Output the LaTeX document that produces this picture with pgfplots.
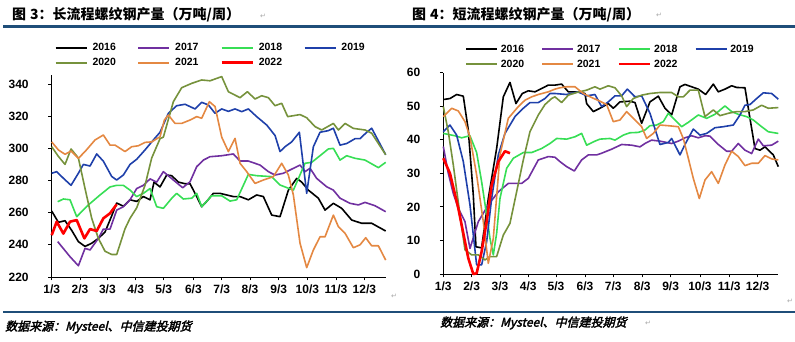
\documentclass[border=0pt]{standalone}
\usepackage{fontspec}
\setmainfont{Liberation Sans}
\newfontfamily\cjk{Noto Sans CJK SC}
\newfontfamily\cjksrc[FakeSlant=0.25,FakeBold=2.5]{Noto Sans CJK SC}
\newfontfamily\arrowfont{DejaVu Sans}
\usepackage{pgfplots}
\pgfplotsset{compat=1.18}
\definecolor{c16}{RGB}{0,0,0}
\definecolor{c17}{RGB}{112,48,160}
\definecolor{c18}{RGB}{55,222,85}
\definecolor{c19}{RGB}{31,64,170}
\definecolor{c20}{RGB}{118,146,60}
\definecolor{c21}{RGB}{228,136,66}
\definecolor{c22}{RGB}{255,0,0}
\definecolor{rule}{RGB}{31,78,121}
\pgfplotsset{
  mystyle/.style={
    scale only axis, clip=false,
    axis x line*=bottom, axis y line*=left,
    axis line style={-, line width=0.8pt},
    tick style={black, line width=0.8pt},
    major tick length=3.5pt, tick align=outside,
    ticklabel style={font=\bfseries\fontsize{12}{14}\selectfont},
    yticklabel style={xshift=-16pt},
    xticklabel style={yshift=-1pt},
    /pgf/number format/assume math mode=true,
    xticklabels={1/3,2/3,3/3,4/3,5/3,6/3,7/3,8/3,9/3,10/3,11/3,12/3},
    every axis plot/.append style={no marks, line join=round},
    legend columns=4,
    legend image code/.code={\draw[##1] (0pt,0pt) -- (31pt,0pt);},
  },
  l16/.style={draw=c16, line width=1.6pt},
  l17/.style={draw=c17, line width=1.6pt},
  l18/.style={draw=c18, line width=1.6pt},
  l19/.style={draw=c19, line width=1.6pt},
  l20/.style={draw=c20, line width=1.6pt},
  l21/.style={draw=c21, line width=1.6pt},
  l22/.style={draw=c22, line width=2.6pt},
}
\begin{document}
\begin{tikzpicture}
\path[use as bounding box] (0,0) rectangle (795pt,342pt);
% titles
\node[anchor=west, inner sep=0pt] at (12pt,327pt) {\cjk\bfseries\fontsize{14}{16}\selectfont 图\hspace{4pt}3：长流程螺纹钢产量（万吨/周）};
\node[anchor=west, inner sep=0pt] at (412pt,327pt) {\cjk\bfseries\fontsize{14}{16}\selectfont 图\hspace{4pt}4：短流程螺纹钢产量（万吨/周）};
\node[anchor=west, inner sep=0pt, gray!70] at (260pt,326pt) {\arrowfont\fontsize{7}{8}\selectfont ↵};
\node[anchor=west, inner sep=0pt, gray!70] at (656pt,327pt) {\arrowfont\fontsize{7}{8}\selectfont ↵};
\draw[rule, line width=2.5pt] (3pt,315.5pt) -- (795pt,315.5pt);
\draw[rule, line width=2.5pt] (3pt,30pt) -- (795pt,30pt);
\node[anchor=west, inner sep=0pt] at (5pt,15pt) {\cjksrc\fontsize{12}{14}\selectfont 数据来源：Mysteel、中信建投期货};
\node[anchor=west, inner sep=0pt] at (440pt,19pt) {\cjksrc\fontsize{12}{14}\selectfont 数据来源：Mysteel、中信建投期货};
\node[anchor=west, inner sep=0pt, gray!70] at (645pt,19pt) {\arrowfont\fontsize{7}{8}\selectfont ↵};
\node[anchor=west, inner sep=0pt, gray!70] at (391pt,46pt) {\arrowfont\fontsize{7}{8}\selectfont ↵};
\node[anchor=west, inner sep=0pt, gray!70] at (787pt,41pt) {\arrowfont\fontsize{7}{8}\selectfont ↵};

% left chart
\begin{axis}[mystyle, at={(51.7pt,65pt)}, anchor=south west,
  width=334pt, height=202pt,
  xmin=155, xmax=1157, ymin=220, ymax=345.6,
  xtick={155,240,322,407,491,580,665,750,836,922,1008,1093},
  ytick={220,240,260,280,300,320,340},
  legend style={draw=none, fill=none, at={(0.009,1.1605)}, anchor=north west,
    inner sep=0pt, font=\bfseries\fontsize{10.5}{12}\selectfont,
    nodes={inner sep=0pt, text height=8pt, text depth=2pt}, row sep=5pt,
    /tikz/every odd column/.style={column sep=5pt},
    /tikz/every even column/.style={column sep=21.7pt}},
]
\addlegendimage{l16}\addlegendentry{2016}
\addlegendimage{l17}\addlegendentry{2017}
\addlegendimage{l18}\addlegendentry{2018}
\addlegendimage{l19}\addlegendentry{2019}
\addlegendimage{l20}\addlegendentry{2020}
\addlegendimage{l21}\addlegendentry{2021}
\addlegendimage{l22}\addlegendentry{2022}
\addplot[l16, forget plot] coordinates {(155,261)(175,254)(195,255)(215,249)(235,242)(255,239)(275,241)(295,244)(315,248)(335,258)(350,266)(370,264)(390,268)(410,267)(430,270)(450,268)(462,279)(480,276)(500,283.4)(515,283)(535,279)(555,278)(570,278)(590,270)(605,263.7)(620,267)(640,272)(660,272)(680,271)(700,270)(720,270)(745,268)(770,271)(790,270)(815,258.5)(840,257.5)(865,274)(890,281.3)(905,279)(925,274)(955,269)(975,261.6)(1000,265.8)(1025,262.7)(1055,255.4)(1085,253.4)(1115,253.4)(1157,248.6)};
\addplot[l17, forget plot] coordinates {(173,242)(210,232.6)(235,227)(255,237.8)(270,236.8)(295,244)(310,249.8)(330,249.8)(350,261.6)(370,263.7)(390,268)(410,275)(430,277)(450,281)(470,279)(490,285.5)(520,280.3)(548,275.5)(570,279.2)(590,288.6)(610,292.7)(630,294.8)(665,295.4)(700,296.5)(720,292.1)(745,292.1)(780,289.6)(805,285.5)(825,283.4)(850,284.5)(900,289.6)(915,285.5)(930,287.6)(950,281.3)(980,276.1)(1000,274)(1020,269)(1050,265.8)(1075,264.8)(1095,266.4)(1125,264.3)(1157,260.6)};
\addplot[l18, forget plot] coordinates {(173,266.8)(190,268.5)(210,268)(230,257.5)(265,264.8)(300,271)(330,276)(350,277)(370,277)(390,274)(410,270)(430,272)(450,275)(470,263.7)(490,262.7)(515,268.9)(530,272)(550,268.5)(575,269)(590,272)(605,263.7)(635,270.5)(665,270.5)(690,267.2)(710,268)(745,283.8)(770,283)(815,282.4)(840,277.2)(855,276)(880,274)(915,290.7)(935,291.3)(985,299.6)(1000,300)(1020,292.7)(1040,295.4)(1065,293.8)(1095,292.7)(1135,288)(1157,291.3)};
\addplot[l19, forget plot] coordinates {(155,284.5)(170,285.5)(192,281)(213,277)(235,284.5)(250,290)(270,289)(290,296.5)(310,292)(335,282.5)(350,280.3)(370,283.4)(390,290)(410,293.2)(435,299)(455,304)(480,310)(505,321.8)(530,326.5)(555,327.4)(585,324.5)(605,328.6)(625,327)(645,321.8)(665,324.5)(685,323)(705,324.5)(725,322.8)(745,324.5)(770,319.7)(800,314.5)(825,308)(840,298)(855,301)(875,304)(898,310)(920,272)(940,301)(960,310)(985,311)(1000,312.5)(1020,302)(1040,303)(1065,306)(1080,306)(1100,310)(1115,312.5)(1157,296)};
\addplot[l20, forget plot] coordinates {(155,301)(175,295)(195,290)(213,299.6)(235,294)(255,275)(275,256.5)(295,244)(315,236)(335,234)(350,234)(375,250)(390,256.5)(410,263)(435,277)(455,294)(480,306)(490,307)(520,329)(545,337.7)(575,340.4)(605,342.5)(630,342)(665,344.6)(685,335.2)(720,331.5)(742,335.2)(765,330.7)(785,332.7)(805,331.5)(825,326.5)(845,328)(863,319.7)(900,321)(920,319)(945,313.5)(965,311.4)(1000,315.5)(1015,311.4)(1035,315.5)(1060,312.4)(1095,311.4)(1115,309.4)(1157,296)};
\addplot[l21, forget plot] coordinates {(155,304)(175,299)(195,296.3)(213,298.3)(235,293.8)(255,298)(285,305.2)(310,308.3)(330,302)(345,302)(375,298)(395,301)(415,301.6)(435,303.7)(455,304)(480,307.2)(493,317.6)(505,320.7)(525,315.5)(545,315.5)(570,317.6)(590,319.7)(605,318.7)(628,329)(645,326)(665,307)(685,298)(705,306.2)(720,290.7)(740,285.5)(765,278.2)(790,280.3)(820,282.4)(845,290.7)(865,283.4)(880,271)(900,241)(920,225.8)(940,236.8)(960,245)(975,245)(1000,258.5)(1015,251.3)(1035,247.2)(1060,238.2)(1080,240)(1097,244.4)(1115,239.4)(1135,239.4)(1157,230.5)};
\addplot[l22, forget plot] coordinates {(155,246)(170,254.4)(190,247)(210,254.4)(230,255.4)(253,244)(270,249.8)(290,248.6)(310,256.5)(330,259.6)(350,265.2)};
\end{axis}

% right chart
\begin{axis}[mystyle, at={(443.3pt,68pt)}, anchor=south west,
  width=335pt, height=201.3pt,
  xmin=130, xmax=1135, ymin=0, ymax=60,
  xtick={130,215,300,385,468,555,640,727,812,900,988,1073},
  ytick={0,10,20,30,40,50,60},
  legend style={draw=none, fill=none, at={(0.065,1.143)}, anchor=north west,
    inner sep=0pt, font=\bfseries\fontsize{10.5}{12}\selectfont,
    nodes={inner sep=0pt, text height=8pt, text depth=2pt}, row sep=5pt,
    /tikz/every odd column/.style={column sep=3pt},
    /tikz/every even column/.style={column sep=17.2pt}},
]
\addlegendimage{l16}\addlegendentry{2016}
\addlegendimage{l17}\addlegendentry{2017}
\addlegendimage{l18}\addlegendentry{2018}
\addlegendimage{l19}\addlegendentry{2019}
\addlegendimage{l20}\addlegendentry{2020}
\addlegendimage{l21}\addlegendentry{2021}
\addlegendimage{l22}\addlegendentry{2022}
\addplot[l16, forget plot] coordinates {(130,52)(150,52.3)(170,53.5)(190,53)(205,42.9)(220,23.5)(228,8.1)(245,7.8)(265,22.5)(290,37.4)(310,52.8)(330,57.1)(348,50.8)(367,53.8)(385,54.6)(405,54.3)(425,55.3)(445,56.3)(465,56.3)(485,56.6)(505,54.3)(530,54.3)(555,53.8)(560,50.8)(580,48.4)(600,49.4)(625,50.8)(640,49.4)(660,51.3)(690,51.5)(705,51.1)(725,44.9)(750,51.3)(775,53)(795,49.4)(815,47.4)(840,55.8)(855,56.5)(875,55.8)(895,55.1)(917,53.5)(940,56.6)(955,54.3)(975,55.1)(995,56.1)(1010,55.6)(1035,55.5)(1050,46.4)(1065,37.4)(1080,36.9)(1095,37.9)(1120,35.5)(1135,32)};
\addplot[l17, forget plot] coordinates {(130,38)(145,30)(160,24)(175,19.6)(195,15.6)(210,7.6)(235,15.6)(265,20.6)(295,24.5)(325,27)(365,27)(385,28.5)(415,34)(445,35)(465,34.8)(480,33.5)(500,32)(523,30.7)(545,34)(565,35.5)(590,35.5)(605,36)(635,37.2)(665,38.6)(695,38.4)(720,37.9)(735,38.9)(755,39.9)(780,39.6)(815,38.9)(835,39.6)(855,40.6)(875,41.2)(895,40.6)(915,41.2)(930,41.1)(955,38.6)(980,36.6)(995,36.6)(1015,38.9)(1035,36.9)(1055,35.9)(1075,40.2)(1090,38.2)(1115,38.4)(1135,39.6)};
\addplot[l18, forget plot] coordinates {(130,41.9)(165,41.2)(185,40.6)(210,41.2)(230,36.2)(245,27.5)(260,17.6)(270,10.6)(280,5.7)(290,12.1)(300,22.5)(320,31.5)(340,34.5)(370,36.2)(395,36.2)(425,37.4)(450,38.9)(470,40.4)(500,40.2)(525,40.9)(545,41.9)(560,38.4)(585,39.6)(600,40.2)(630,40.4)(645,39.9)(670,41.4)(690,42.1)(715,42.2)(735,42.9)(750,44.2)(770,44.4)(790,45.4)(805,47.9)(825,45.9)(845,43.9)(865,45.2)(895,47.4)(920,46.4)(945,47.6)(975,50.1)(995,48.4)(1015,47.6)(1040,46.9)(1060,45.9)(1085,43.9)(1105,42.4)(1135,41.9)};
\addplot[l19, forget plot] coordinates {(130,42.4)(150,44.4)(170,41.4)(190,33.5)(210,20.6)(230,2.7)(245,2.7)(260,9.6)(275,22.5)(295,35.5)(315,41.9)(345,46.9)(370,49.4)(390,51.1)(415,51.1)(435,52.3)(450,53.8)(465,53.8)(500,53.5)(535,54.3)(560,53.1)(585,53.5)(605,49.9)(625,51.3)(645,53.1)(665,53.1)(682,55.1)(705,52.8)(725,53.1)(750,47.9)(780,38.6)(805,39.2)(815,40.4)(840,35.5)(855,38.6)(880,43.2)(900,41.4)(920,41.9)(945,43.6)(970,43.9)(1000,44.4)(1020,47.4)(1035,50.3)(1050,50.5)(1070,52.3)(1090,54)(1115,53.8)(1135,52.1)};
\addplot[l20, forget plot] coordinates {(130,49.9)(145,42.4)(160,32.5)(180,17.6)(195,7.2)(215,5.7)(235,5.7)(255,4.2)(270,5.2)(290,5.2)(310,11.6)(330,15.1)(350,24.5)(370,34)(390,42.4)(415,47.4)(435,50.5)(455,52.3)(465,52.8)(485,51.1)(505,53.3)(530,54.1)(560,54.8)(585,55.8)(600,55.1)(625,56.1)(645,55.5)(665,53.1)(680,49.9)(700,52.3)(725,53.3)(750,53.8)(780,54.1)(815,54.1)(835,52.8)(850,52.8)(870,54.8)(895,54.8)(915,46.9)(940,48.9)(960,47.2)(985,47.9)(1010,48.4)(1035,48.4)(1060,48.9)(1085,50.3)(1105,49.4)(1135,49.6)};
\addplot[l21, forget plot] coordinates {(130,46.9)(155,49.4)(175,48.6)(195,45.4)(210,40.9)(230,29.5)(250,15.6)(265,3.2)(280,10.6)(300,35.5)(325,46.4)(355,49.9)(375,51.8)(395,52.8)(415,53.5)(445,54.3)(465,55.1)(480,55.5)(500,55.8)(525,55.8)(550,53.8)(575,52.6)(600,51.5)(620,50.5)(640,45.4)(660,45.9)(680,48.4)(705,45.9)(725,43.9)(740,40.4)(760,41.9)(780,44.4)(805,44.2)(835,43.9)(850,40.4)(865,34.5)(880,28.5)(898,22.5)(915,28)(935,30.5)(955,27)(975,32.5)(995,36.6)(1015,35)(1035,32.3)(1055,33)(1075,33)(1095,35.3)(1115,34.3)(1135,34)};
\addplot[l22, forget plot] coordinates {(130,34.5)(150,30)(175,19.6)(205,4.7)(220,0)(230,0.2)(245,6.7)(260,15.6)(275,26.5)(295,33.5)(315,36.6)(330,36)};
\end{axis}
\end{tikzpicture}
\end{document}
